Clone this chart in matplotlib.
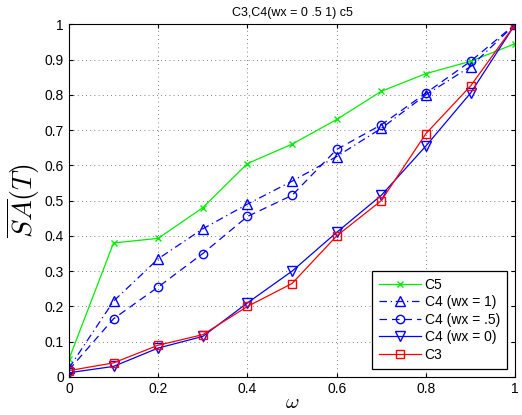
import numpy as np
import matplotlib.pyplot as plt

plt.rcParams['font.family'] = ['Liberation Sans', 'DejaVu Sans']
plt.rcParams['mathtext.fontset'] = 'cm'

w = [0, 0.1, 0.2, 0.3, 0.4, 0.5, 0.6, 0.7, 0.8, 0.9, 1.0]
c5 = [0.05, 0.38, 0.393, 0.48, 0.605, 0.66, 0.73, 0.81, 0.86, 0.895, 0.945]
c4_wx1 = [0.025, 0.215, 0.335, 0.42, 0.49, 0.555, 0.625, 0.705, 0.80, 0.88, 1.0]
c4_wx05 = [0.02, 0.165, 0.255, 0.35, 0.455, 0.515, 0.645, 0.715, 0.805, 0.895, 1.0]
c4_wx0 = [0.012, 0.03, 0.082, 0.115, 0.21, 0.30, 0.41, 0.515, 0.655, 0.805, 1.0]
c3 = [0.018, 0.04, 0.09, 0.12, 0.20, 0.265, 0.40, 0.50, 0.69, 0.825, 1.0]

fig = plt.figure(figsize=(5.22, 4.15), dpi=100)
ax = fig.add_axes([0.132, 0.0916, 0.855, 0.85])

ax.plot(w, c5, color='#00ee00', marker='x', ms=5, lw=0.9, label='C5')
ax.plot(w, c4_wx1, color='blue', marker='^', ms=7, mfc='none', lw=0.9,
        ls=(0, (6, 3, 1, 3)), label='C4 (wx = 1)')
ax.plot(w, c4_wx05, color='blue', marker='o', ms=6, mfc='none', lw=0.9,
        ls=(0, (6, 4)), label='C4 (wx = .5)')
ax.plot(w, c4_wx0, color='blue', marker='v', ms=7, mfc='none', lw=0.9,
        label='C4 (wx = 0)')
ax.plot(w, c3, color='red', marker='s', ms=5.5, mfc='none', lw=0.9, label='C3')

ax.set_xlim(0, 1)
ax.set_ylim(0, 1)
ax.set_xticks(np.arange(0, 1.01, 0.2))
ax.set_xticklabels(['0', '0.2', '0.4', '0.6', '0.8', '1'])
ax.set_yticks(np.arange(0, 1.01, 0.1))
ax.set_yticklabels(['0', '0.1', '0.2', '0.3', '0.4', '0.5', '0.6', '0.7', '0.8', '0.9', '1'])
ax.tick_params(direction='in', labelsize=10, length=3, top=True, right=True)
ax.grid(True, ls=(0, (1, 4)), color='#555555', lw=0.6)

ax.set_title('C3,C4(wx = 0 .5 1) c5', fontsize=9)
ax.set_xlabel(r'$\omega$', fontsize=15, labelpad=-2)
ax.set_ylabel(r'$\overline{SA}(T)$', fontsize=20, labelpad=2)

leg = ax.legend(loc='lower right', fontsize=10, fancybox=False, framealpha=1,
                edgecolor='black', borderaxespad=0.6, handlelength=3.0,
                handletextpad=0.3, labelspacing=0.25, borderpad=0.5)
leg.get_frame().set_linewidth(0.9)

fig.savefig('out.png', dpi=100)
